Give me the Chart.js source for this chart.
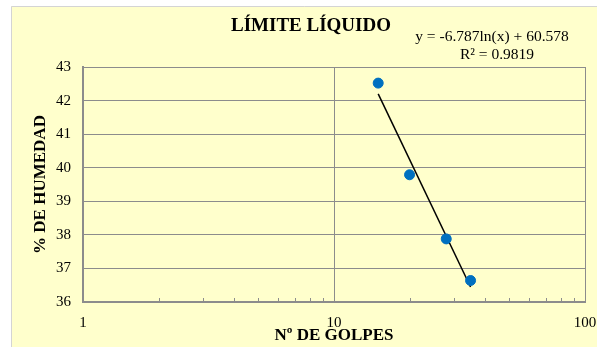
<!DOCTYPE html>
<html>
<head>
<meta charset="utf-8">
<script src="https://cdn.jsdelivr.net/npm/chart.js@4/dist/chart.umd.min.js"></script>
<style>
  html, body { margin: 0; padding: 0; background: #ffffff; }
  #wrap { width: 597px; height: 347px; position: relative; }
</style>
</head>
<body>
<div id="wrap"><canvas id="c" width="597" height="347"></canvas></div>
<script>
// Liquid limit test: blows (log scale) vs. moisture content
const golpes = [15, 20, 28, 35];
const humedad = [42.52, 39.79, 37.88, 36.64];
const xTickValues = [1, 10, 100];
const xMinorTicks = [2, 3, 4, 5, 6, 7, 8, 9, 20, 30, 40, 50, 60, 70, 80, 90];
const yTickValues = [36, 37, 38, 39, 40, 41, 42, 43];
// logarithmic fit: y = a*ln(x) + b
const trendA = -6.787;
const trendB = 60.578;
const trendR2 = 0.9819;

const titleText = 'LÍMITE LÍQUIDO';
const xTitle = 'Nº DE GOLPES';
const yTitle = '% DE HUMEDAD';
const eqText = 'y = ' + trendA.toFixed(3) + 'ln(x) + ' + trendB.toFixed(3);
const r2Text = 'R² = ' + trendR2.toFixed(4);

const SERIF = "'Liberation Serif', 'Times New Roman', serif";
const BG = '#FFFFCC';
const GRID = '#8C8C8C';

// fitted line across the range of the data
const xLo = Math.min(...golpes), xHi = Math.max(...golpes);
const trendPts = [xLo, xHi].map(x => ({ x: x, y: trendA * Math.log(x) + trendB }));

const backdrop = {
  id: 'backdrop',
  beforeDraw(chart) {
    const ctx = chart.ctx;
    ctx.save();
    ctx.fillStyle = '#ffffff';
    ctx.fillRect(0, 0, chart.width, chart.height);
    ctx.fillStyle = BG;
    ctx.fillRect(11, 6, chart.width - 11, chart.height - 6);
    ctx.strokeStyle = '#D4D4D4';
    ctx.lineWidth = 1;
    ctx.beginPath();
    ctx.moveTo(11.5, chart.height);
    ctx.lineTo(11.5, 6.5);
    ctx.lineTo(chart.width, 6.5);
    ctx.stroke();
    ctx.restore();
  },
  afterDraw(chart) {
    const ctx = chart.ctx;
    const xs = chart.scales.x;
    const area = chart.chartArea;
    ctx.save();
    // minor tick marks along the bottom axis
    ctx.strokeStyle = GRID;
    ctx.lineWidth = 1;
    ctx.beginPath();
    xMinorTicks.forEach(v => {
      const px = Math.round(xs.getPixelForValue(v)) + 0.5;
      ctx.moveTo(px, area.bottom);
      ctx.lineTo(px, area.bottom - 4);
    });
    ctx.stroke();
    // chart title and trendline equation
    ctx.fillStyle = '#000000';
    ctx.textAlign = 'center';
    ctx.textBaseline = 'middle';
    ctx.font = 'bold 19px ' + SERIF;
    ctx.fillText(titleText, 311, 26);
    ctx.font = '15.5px ' + SERIF;
    ctx.fillText(eqText, 492, 37);
    ctx.fillText(r2Text, 497, 55);
    ctx.restore();
  }
};

new Chart(document.getElementById('c'), {
  type: 'scatter',
  data: {
    datasets: [
      {
        label: 'Humedad',
        data: golpes.map((g, i) => ({ x: g, y: humedad[i] })),
        backgroundColor: '#0070C0',
        borderColor: '#0070C0',
        pointRadius: 5,
        pointHoverRadius: 5,
        order: 1
      },
      {
        label: 'Tendencia',
        type: 'line',
        data: trendPts,
        borderColor: '#000000',
        borderWidth: 1.5,
        pointRadius: 0,
        fill: false,
        order: 2
      }
    ]
  },
  plugins: [backdrop],
  options: {
    responsive: false,
    animation: false,
    layout: { padding: { left: 11, top: 67, right: 12, bottom: 0 } },
    plugins: {
      legend: { display: false },
      tooltip: { enabled: false },
      title: { display: false }
    },
    scales: {
      x: {
        type: 'logarithmic',
        min: 1,
        max: 100,
        afterBuildTicks: s => { s.ticks = xTickValues.map(v => ({ value: v })); },
        afterFit: s => { s.height = 45; s.paddingLeft = 0; s.paddingRight = 0; },
        ticks: {
          color: '#000000',
          font: { family: SERIF, size: 15 },
          padding: 12,
          maxRotation: 0,
          autoSkip: false,
          callback: v => String(v)
        },
        grid: { color: GRID, lineWidth: 1, drawTicks: false },
        border: { color: GRID, width: 2 },
        title: {
          display: true,
          text: xTitle,
          color: '#000000',
          font: { family: SERIF, size: 17, weight: 'bold' },
          padding: { top: 0, bottom: 1 }
        }
      },
      y: {
        type: 'linear',
        min: 36,
        max: 43,
        afterBuildTicks: s => { s.ticks = yTickValues.map(v => ({ value: v })); },
        afterFit: s => { s.width = 72; s.paddingTop = 0; s.paddingBottom = 0; },
        ticks: {
          color: '#000000',
          font: { family: SERIF, size: 15 },
          padding: 12
        },
        grid: { color: GRID, lineWidth: 1, drawTicks: false },
        border: { color: GRID, width: 2 },
        title: {
          display: true,
          text: yTitle,
          color: '#000000',
          font: { family: SERIF, size: 17, weight: 'bold' },
          padding: { top: 19, bottom: 0 }
        }
      }
    }
  }
});
</script>
</body>
</html>
